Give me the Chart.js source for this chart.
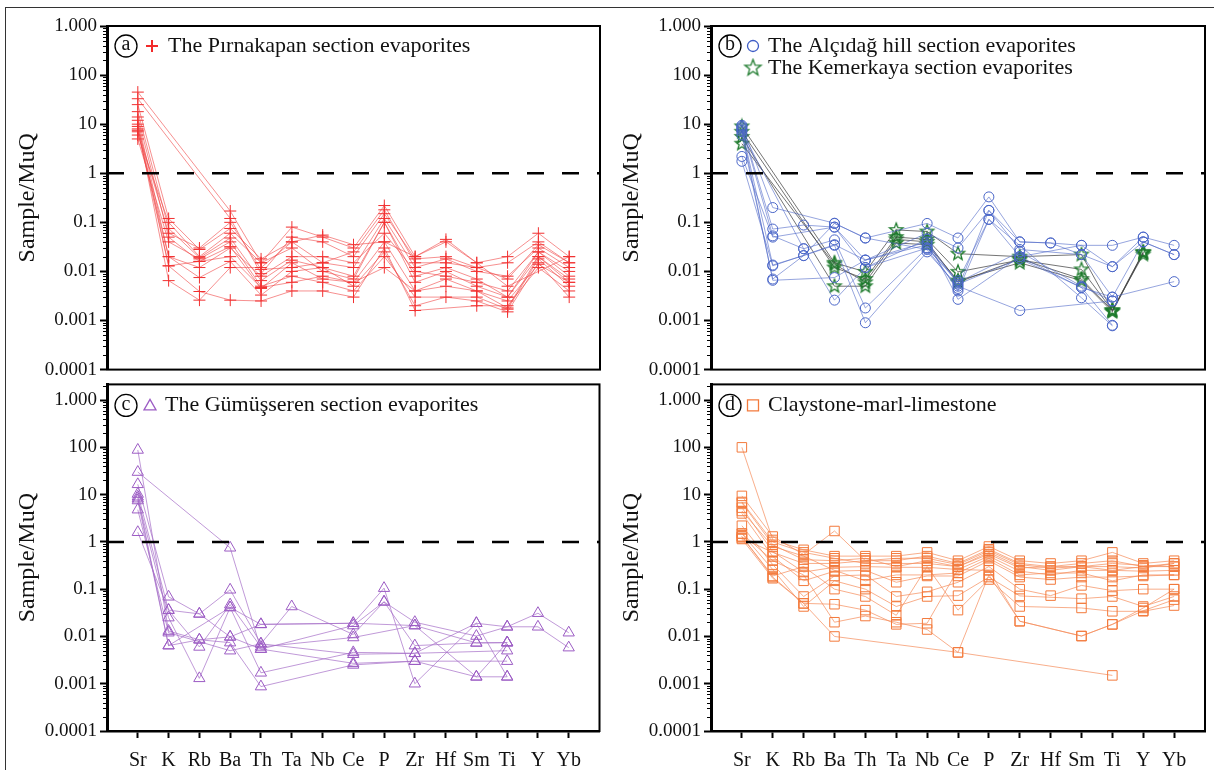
<!DOCTYPE html>
<html>
<head>
<meta charset="utf-8">
<script src="https://cdn.jsdelivr.net/npm/chart.js@4.4.1/dist/chart.umd.min.js"></script>
<style>
body { margin: 0; background: #fff; width: 1214px; height: 770px; overflow: hidden; position: relative; }
.box { position: absolute; }
#frame { position: absolute; left: 5px; top: 7px; width: 1230px; height: 790px; border: 1.5px solid #333; box-sizing: border-box; }
</style>
</head>
<body>
<div id="frame"></div>
<div class="box" style="left:0;top:0;width:607px;height:384px"><canvas id="ca"></canvas></div>
<div class="box" style="left:604px;top:0;width:610px;height:384px"><canvas id="cb"></canvas></div>
<div class="box" style="left:0;top:370px;width:607px;height:400px"><canvas id="cc"></canvas></div>
<div class="box" style="left:604px;top:370px;width:610px;height:400px"><canvas id="cd"></canvas></div>
<script>
const elements = ['Sr', 'K', 'Rb', 'Ba', 'Th', 'Ta', 'Nb', 'Ce', 'P', 'Zr', 'Hf', 'Sm', 'Ti', 'Y', 'Yb'];
const yTickVals = [1000, 100, 10, 1, 0.1, 0.01, 0.001, 0.0001];
const yTickLabels = ['1.000', '100', '10', '1', '0.1', '0.01', '0.001', '0.0001'];
const _ = null;

// (a) Pirnakapan section evaporites
const pirnakapan = [
  [45, _, _, 0.17, 0.015, 0.08, 0.05, 0.03, 0.22, 0.02, 0.04, 0.015, 0.02, 0.06, 0.02],
  [33, _, _, 0.12, 0.009, 0.05, 0.04, 0.02, 0.15, 0.018, 0.02, 0.012, 0.015, 0.04, 0.015],
  [25, 0.12, 0.028, 0.075, 0.018, 0.04, 0.015, 0.012, 0.12, 0.012, 0.018, 0.01, 0.008, 0.03, 0.012],
  [18, 0.075, 0.019, 0.048, 0.0065, 0.017, 0.012, 0.008, 0.1, 0.008, 0.012, 0.007, 0.003, 0.025, 0.008],
  [14, 0.05, 0.016, 0.032, 0.0045, 0.015, 0.007, 0.006, 0.04, 0.004, 0.007, 0.004, 0.0018, 0.02, 0.006],
  [12, 0.02, 0.0075, 0.016, 0.0033, 0.01, 0.012, 0.005, 0.025, 0.002, 0.003, 0.0025, 0.0015, 0.015, 0.003],
  [10, 0.013, 0.0039, 0.0026, 0.0025, 0.004, 0.004, 0.003, 0.03, 0.0016, _, 0.002, 0.002, 0.012, 0.004],
  [9, 0.0065, 0.0026, 0.012, 0.012, 0.04, 0.055, 0.035, 0.04, 0.02, 0.045, 0.015, 0.005, _, 0.02],
  [8, 0.06, 0.03, 0.1, 0.011, 0.012, 0.015, 0.025, 0.18, 0.015, 0.015, 0.012, 0.007, 0.035, 0.015],
  [7, 0.02, 0.012, 0.03, 0.008, 0.02, 0.02, 0.015, 0.06, 0.01, 0.008, 0.006, 0.004, 0.025, 0.01],
  [6, 0.1, 0.02, 0.06, 0.015, 0.03, 0.01, 0.007, 0.1, 0.006, 0.01, 0.005, 0.003, 0.02, 0.007],
  [5, 0.04, 0.018, 0.04, 0.005, 0.008, 0.006, 0.004, 0.02, 0.003, _, 0.003, 0.0017, 0.018, 0.005],
  [7.5, 0.013, 0.016, 0.02, 0.0047, 0.006, 0.008, 0.006, 0.012, 0.004, 0.005, 0.004, 0.0025, 0.014, 0.006]
];

// (b) Alcidag hill section evaporites
const alcidag = [
  [9.5, 0.2, _, 0.096, 0.048, _, 0.095, 0.048, 0.33, 0.04, 0.038, 0.034, 0.034, 0.05, 0.034],
  [9, 0.073, 0.088, 0.08, 0.017, _, 0.06, 0.03, 0.175, 0.028, _, 0.022, 0.0125, 0.04, 0.022],
  [8.5, 0.053, 0.029, 0.044, 0.0018, _, 0.03, 0.0065, 0.115, 0.02, _, 0.0047, 0.003, _, 0.0062],
  [8, 0.0135, 0.021, 0.034, 0.0009, _, 0.025, 0.005, _, 0.0016, _, _, 0.0025, _, _],
  [7.5, 0.0066, _, 0.0075, 0.017, _, 0.035, 0.004, 0.115, _, _, 0.0029, 0.00078, _, _],
  [7, _, 0.029, 0.0026, 0.012, _, 0.045, 0.0027, _, 0.02, _, 0.034, 0.0125, 0.05, _],
  [2.2, 0.05, _, 0.08, 0.012, _, 0.03, 0.006, _, 0.025, _, 0.005, 0.0025, _, _],
  [1.75, 0.013, _, 0.035, 0.017, _, 0.04, 0.0055, _, 0.018, _, 0.0047, 0.0008, _, _],
  [6, 0.007, 0.021, 0.095, 0.048, _, 0.028, 0.0045, 0.175, 0.04, 0.038, 0.022, 0.003, 0.04, 0.022]
];

// (b) Kemerkaya section evaporites
const kemerkaya = [
  [9, _, _, 0.015, 0.0098, 0.07, 0.065, 0.023, _, 0.02, _, 0.022, 0.0016, 0.024, _],
  [7, _, _, 0.012, 0.007, 0.05, 0.045, 0.0098, _, 0.017, _, 0.011, 0.0016, 0.022, _],
  [5.5, _, _, 0.005, 0.005, 0.038, 0.035, 0.0065, _, 0.015, _, 0.0065, 0.0015, 0.024, _],
  [4, _, _, 0.014, 0.006, 0.045, 0.04, 0.006, _, 0.018, _, 0.007, 0.0016, 0.025, _]
];

// (c) Gumusseren section evaporites
const gumusseren = [
  [88, 0.013, 0.0085, 0.0098, 0.018, _, _, 0.019, 0.105, 0.001, _, 0.019, 0.016, 0.031, 0.012],
  [30, _, _, 0.75, 0.0054, _, _, 0.017, 0.054, 0.02, _, 0.0102, 0.016, 0.016, 0.0058],
  [16.5, 0.069, 0.03, 0.097, 0.007, 0.043, _, 0.011, 0.054, 0.0064, _, 0.0073, 0.0074, _, _],
  [10.3, 0.036, 0.006, 0.047, 0.006, _, _, 0.0095, _, 0.017, _, 0.0014, 0.0074, _, _],
  [8.2, 0.025, 0.0013, 0.041, 0.0017, _, _, 0.0046, _, 0.0044, _, _, 0.005, _, _],
  [7.5, 0.0064, 0.0085, 0.0074, 0.00087, _, _, 0.0025, _, 0.003, _, _, 0.003, _, _],
  [4.8, 0.012, _, 0.005, 0.007, _, _, 0.0042, _, 0.0044, _, 0.019, 0.0014, _, _],
  [1.6, 0.036, 0.03, 0.0098, 0.0054, _, _, 0.0027, _, 0.003, _, 0.0014, 0.0014, _, _],
  [9, 0.0064, _, 0.041, 0.018, _, _, 0.019, _, 0.017, _, 0.0073, 0.0074, _, _]
];

// (d) Claystone-marl-limestone
const claystone = [
  [100, 1.1, 0.68, 0.5, 0.5, 0.5, 0.6, 0.4, 0.8, 0.4, 0.35, 0.4, 0.6, 0.35, 0.4],
  [9.4, 1.3, 0.54, 1.7, 0.4, 0.4, 0.5, 0.35, 0.7, 0.35, 0.3, 0.35, 0.4, 0.3, 0.35],
  [6.7, 0.87, 0.42, 0.4, 0.45, 0.3, 0.4, 0.3, 0.6, 0.3, 0.25, 0.3, 0.35, 0.32, 0.3],
  [5.3, 0.62, 0.23, 0.29, 0.3, 0.29, 0.29, 0.26, 0.5, 0.24, 0.2, 0.25, 0.25, 0.24, 0.25],
  [4, 0.49, 0.15, 0.24, 0.25, 0.14, 0.19, 0.19, 0.4, 0.18, 0.16, 0.18, 0.18, 0.19, 0.2],
  [2.2, 0.33, 0.07, 0.19, 0.2, 0.07, 0.088, 0.14, 0.3, 0.1, 0.073, 0.12, 0.093, 0.1, 0.1],
  [1.5, 0.26, 0.043, 0.15, 0.1, 0.043, 0.07, 0.073, 0.18, 0.072, _, 0.063, 0.07, 0.043, 0.07],
  [1.3, 0.19, 0.3, 0.1, 0.07, 0.028, 0.3, 0.036, 0.16, 0.043, _, 0.04, 0.034, 0.034, 0.045],
  [1.15, 0.17, 0.05, 0.048, 0.036, 0.018, 0.019, 0.26, 0.25, 0.021, _, 0.0102, 0.018, 0.04, 0.1],
  [1.3, 0.18, 0.05, 0.01, _, _, _, 0.0046, _, _, _, _, 0.0015, _, _],
  [1.5, 0.4, 0.2, 0.02, 0.027, 0.02, 0.014, 0.0046, 0.2, 0.021, _, 0.0102, 0.018, 0.035, 0.06],
  [7, 1.0, 0.6, 0.45, 0.35, 0.35, 0.35, 0.3, 0.55, 0.28, 0.3, 0.3, 0.3, 0.28, 0.35],
  [4.5, 0.8, 0.5, 0.25, 0.15, 0.2, 0.2, 0.22, 0.45, 0.2, 0.22, 0.22, 0.15, 0.2, 0.2],
  [1.2, 0.6, 0.35, 0.35, 0.4, 0.45, 0.45, 0.33, 0.65, 0.33, 0.28, 0.3, 0.25, 0.3, 0.3]
];

const serif = "'Liberation Serif', 'Times New Roman', serif";

function makeStar(r, color) {
  const c = document.createElement('canvas');
  const s = Math.ceil(r * 2 + 4);
  c.width = c.height = s;
  const g = c.getContext('2d');
  g.strokeStyle = color;
  g.lineWidth = 1.3;
  g.beginPath();
  for (let i = 0; i < 10; i++) {
    const rr = i % 2 ? r * 0.42 : r;
    const a = -Math.PI / 2 + i * Math.PI / 5;
    const px = s / 2 + rr * Math.cos(a), py = s / 2 + rr * Math.sin(a);
    if (i) g.lineTo(px, py); else g.moveTo(px, py);
  }
  g.closePath();
  g.stroke();
  return c;
}
const starImg = makeStar(7, '#1d7a2c');
const starLegend = makeStar(8.5, '#1d7a2c');

function toPoints(row) {
  const pts = [];
  row.forEach((v, i) => { if (v != null) pts.push({x: i, y: v}); });
  return pts;
}

function seriesSets(rows, lineColor, pointColor, style, radius) {
  return rows.map(r => ({
    data: toPoints(r),
    borderColor: lineColor,
    borderWidth: 1,
    pointStyle: style,
    pointRadius: radius,
    pointHoverRadius: radius,
    pointBorderColor: pointColor,
    pointBorderWidth: 1,
    pointBackgroundColor: 'rgba(0,0,0,0)',
    tension: 0,
    fill: false
  }));
}

function drawMarker(ctx, kind, x, y, color) {
  ctx.save();
  ctx.strokeStyle = color;
  ctx.lineWidth = 1.3;
  ctx.beginPath();
  if (kind === 'cross') {
    ctx.lineWidth = 2;
    ctx.moveTo(x - 6, y); ctx.lineTo(x + 6, y);
    ctx.moveTo(x, y - 6); ctx.lineTo(x, y + 6);
  } else if (kind === 'circle') {
    ctx.arc(x, y, 5.5, 0, Math.PI * 2);
  } else if (kind === 'triangle') {
    ctx.moveTo(x, y - 6); ctx.lineTo(x + 6, y + 4.5); ctx.lineTo(x - 6, y + 4.5); ctx.closePath();
  } else if (kind === 'rect') {
    ctx.rect(x - 5.5, y - 5.5, 11, 11);
  }
  ctx.stroke();
  if (kind === 'star') ctx.drawImage(starLegend, x - starLegend.width / 2, y - starLegend.height / 2);
  ctx.restore();
}

const panelDeco = {
  id: 'panelDeco',
  afterDraw(chart, args, opts) {
    const {ctx, chartArea: a} = chart;
    const y = chart.scales.y;
    ctx.save();
    // minor log ticks
    ctx.strokeStyle = '#000';
    ctx.lineWidth = 1;
    for (let e = -4; e < 4; e++) {
      for (let k = 2; k < 10; k++) {
        const v = k * Math.pow(10, e);
        if (v <= y.min || v >= y.max) continue;
        const py = Math.round(y.getPixelForValue(v)) + 0.5;
        ctx.beginPath();
        ctx.moveTo(a.left - 4, py);
        ctx.lineTo(a.left, py);
        ctx.stroke();
      }
    }
    // frame
    ctx.lineWidth = 2;
    ctx.strokeRect(a.left, a.top, a.right - a.left, a.bottom - a.top);
    // panel letter
    const cx = a.left + 19, cy = a.top + opts.dy;
    ctx.lineWidth = 1.3;
    ctx.beginPath();
    ctx.arc(cx, cy, 11, 0, Math.PI * 2);
    ctx.stroke();
    ctx.fillStyle = '#111';
    ctx.font = '20px ' + serif;
    ctx.textAlign = 'center';
    ctx.textBaseline = 'middle';
    ctx.fillText(opts.letter, cx, cy - 1);
    ctx.textAlign = 'left';
    ctx.font = '22px ' + serif;
    opts.entries.forEach((en, i) => {
      const ly = cy + i * 22;
      drawMarker(ctx, en.marker, a.left + opts.mx, ly, en.color);
      ctx.fillStyle = '#111';
      ctx.fillText(en.text, a.left + opts.tx, ly);
    });
    ctx.restore();
  }
};

function refLine() {
  return {
    data: [{x: -1, y: 1}, {x: 15, y: 1}],
    borderColor: '#000',
    borderWidth: 2.5,
    borderDash: [17, 18],
    pointRadius: 0,
    pointHoverRadius: 0,
    fill: false
  };
}

function makePanel(id, g, datasets, deco) {
  const bottom = g.bottomPanel;
  new Chart(document.getElementById(id), {
    type: 'line',
    data: {datasets: [refLine()].concat(datasets)},
    options: {
      responsive: true,
      maintainAspectRatio: false,
      animation: false,
      events: [],
      layout: {padding: {left: 0, top: g.padTop, right: g.padRight, bottom: 0}},
      plugins: {legend: {display: false}, tooltip: {enabled: false}, panelDeco: deco},
      scales: {
        x: {
          type: 'linear',
          min: -1,
          max: 15,
          afterBuildTicks: s => { s.ticks = elements.map((e, i) => ({value: i})); },
          afterFit: s => { s.height = g.xH; },
          ticks: {
            display: bottom,
            autoSkip: false,
            maxRotation: 0,
            padding: 11,
            color: '#111',
            font: {family: serif, size: 20},
            callback: v => elements[v]
          },
          grid: {display: bottom, drawOnChartArea: false, drawTicks: true, tickLength: 7, tickWidth: 2, tickColor: '#000'},
          border: {display: bottom, color: '#000', width: 2.5}
        },
        y: {
          type: 'logarithmic',
          min: 0.0001,
          max: g.yMax,
          bounds: 'data',
          afterBuildTicks: s => { s.ticks = yTickVals.map(v => ({value: v})); },
          afterFit: s => { s.width = g.yW; },
          ticks: {
            autoSkip: false,
            padding: 3,
            color: '#111',
            font: {family: serif, size: 19},
            callback: v => yTickLabels[yTickVals.indexOf(v)]
          },
          grid: {drawOnChartArea: false, drawTicks: true, tickLength: 7, tickWidth: 2, tickColor: '#000'},
          border: {display: true, color: '#000', width: 3},
          title: {display: true, text: 'Sample/MuQ', color: '#111', font: {family: serif, size: 24}, padding: {top: 13, bottom: 0}}
        }
      }
    },
    plugins: [panelDeco]
  });
}

const topG = {padTop: 26, xH: 6, yW: 107, yMax: 1000, bottomPanel: false};
const botG = {padTop: 7, xH: 39, yW: 107, yMax: 2143, bottomPanel: true};

makePanel('ca', Object.assign({padRight: 5}, topG),
  seriesSets(pirnakapan, 'rgba(240,70,70,0.6)', '#f23030', 'cross', 6),
  {letter: 'a', dy: 20, mx: 45, tx: 61, entries: [{marker: 'cross', color: '#f22a2a', text: 'The Pırnakapan section evaporites'}]});

makePanel('cb', Object.assign({padRight: 9}, topG),
  seriesSets(alcidag, 'rgba(80,105,200,0.6)', '#4a66c8', 'circle', 5)
    .concat(seriesSets(kemerkaya, 'rgba(70,70,70,0.75)', '#1d7a2c', starImg, 7)),
  {letter: 'b', dy: 20, mx: 42, tx: 57, entries: [
    {marker: 'circle', color: '#3f5dc6', text: 'The Alçıdağ hill section evaporites'},
    {marker: 'star', color: '#1d7a2c', text: 'The Kemerkaya section evaporites'}]});

makePanel('cc', Object.assign({padRight: 5}, botG),
  seriesSets(gumusseren, 'rgba(165,110,200,0.7)', '#9c5cc4', 'triangle', 6.5),
  {letter: 'c', dy: 21, mx: 43, tx: 58, entries: [{marker: 'triangle', color: '#9c5cc4', text: 'The Gümüşseren section evaporites'}]});

makePanel('cd', Object.assign({padRight: 9}, botG),
  seriesSets(claystone, 'rgba(245,140,90,0.7)', '#f37a3c', 'rect', 6.7),
  {letter: 'd', dy: 21, mx: 42, tx: 57, entries: [{marker: 'rect', color: '#f37a3c', text: 'Claystone-marl-limestone'}]});
</script>
</body>
</html>
